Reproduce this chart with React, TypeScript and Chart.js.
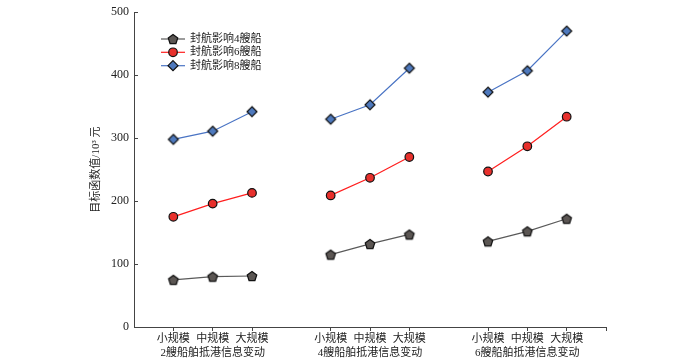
import React, { useEffect, useRef } from 'react';
import { Chart, registerables } from 'chart.js';

Chart.register(...registerables);

const sizeLabels = ['小规模', '中规模', '大规模'];
const groupLabels = ['2艘船舶抵港信息变动', '4艘船舶抵港信息变动', '6艘船舶抵港信息变动'];
const seriesNames = ['封航影响4艘船', '封航影响6艘船', '封航影响8艘船'];
const closure4 = [75, 80, 81, 115, 132, 147, 136, 152, 172];
const closure6 = [175, 196, 213, 209, 237, 270, 247, 287, 334];
const closure8 = [298, 311, 342, 330, 353, 411, 373, 407, 470];
const yTickValues = [0, 100, 200, 300, 400, 500];
const yTitle = '目标函数值/10³ 元';

const FONT = '"Liberation Serif", "Noto Sans CJK SC", serif';
const AXIS_COLOR = '#444';
const TEXT_COLOR = '#222';

const seriesStyles = [
  { marker: 'pentagon', line: '#5a5a5a', fill: '#5b5653', r: 5 },
  { marker: 'circle', line: '#ff1f1f', fill: '#e8302c', r: 4.3 },
  { marker: 'diamond', line: '#4a74c4', fill: '#4e79bd', r: 5 },
];

function markerPath(ctx: CanvasRenderingContext2D, style: string, x: number, y: number, r: number) {
  ctx.beginPath();
  if (style === 'pentagon') {
    for (let i = 0; i < 5; i++) {
      const a = -Math.PI / 2 + (i * 2 * Math.PI) / 5;
      const px = x + Math.cos(a) * r;
      const py = y + Math.sin(a) * r;
      if (i === 0) ctx.moveTo(px, py);
      else ctx.lineTo(px, py);
    }
  } else if (style === 'diamond') {
    ctx.moveTo(x, y - r);
    ctx.lineTo(x + r, y);
    ctx.lineTo(x, y + r);
    ctx.lineTo(x - r, y);
  } else {
    ctx.arc(x, y, r, 0, Math.PI * 2);
  }
  ctx.closePath();
}

function drawMarker(ctx: CanvasRenderingContext2D, style: string, x: number, y: number, r: number, fill: string) {
  ctx.save();
  markerPath(ctx, style, x, y, r);
  ctx.fillStyle = fill;
  ctx.fill();
  ctx.lineWidth = 1.2;
  ctx.strokeStyle = '#111';
  ctx.stroke();
  ctx.restore();
}

function markerImage(style: string, r: number, fill: string) {
  const size = Math.ceil(r * 2 + 4);
  const c = document.createElement('canvas');
  c.width = size;
  c.height = size;
  const ctx = c.getContext('2d')!;
  drawMarker(ctx, style, size / 2, size / 2 + (style === 'pentagon' ? 0.5 : 0), r, fill);
  return c;
}

function groupPos(g: number, i: number) {
  return g * 4 + i + 1;
}

function buildPoints(values: number[]) {
  const pts: { x: number; y: number | null }[] = [];
  for (let g = 0; g < groupLabels.length; g++) {
    for (let i = 0; i < sizeLabels.length; i++) {
      pts.push({ x: groupPos(g, i), y: values[g * sizeLabels.length + i] });
    }
    if (g < groupLabels.length - 1) pts.push({ x: groupPos(g, 3), y: null });
  }
  return pts;
}

const xTickPositions: number[] = [];
for (let g = 0; g < groupLabels.length; g++) {
  for (let i = 0; i < sizeLabels.length; i++) xTickPositions.push(groupPos(g, i));
}
const X_MAX = groupLabels.length * 4;
xTickPositions.push(X_MAX);

const overlayPlugin = {
  id: 'overlay',
  afterDraw(chart: any) {
    const ctx: CanvasRenderingContext2D = chart.ctx;
    const area = chart.chartArea;
    const yScale = chart.scales.y;
    // inward y ticks
    ctx.save();
    ctx.strokeStyle = AXIS_COLOR;
    ctx.lineWidth = 1;
    yTickValues.forEach((v) => {
      const py = Math.round(yScale.getPixelForValue(v)) + 0.5;
      ctx.beginPath();
      ctx.moveTo(area.left, py);
      ctx.lineTo(area.left + 4, py);
      ctx.stroke();
    });
    ctx.restore();

    // y title
    ctx.save();
    ctx.translate(96, (area.top + area.bottom) / 2);
    ctx.rotate(-Math.PI / 2);
    ctx.font = `11px ${FONT}`;
    ctx.fillStyle = TEXT_COLOR;
    ctx.textAlign = 'center';
    ctx.textBaseline = 'middle';
    ctx.fillText(yTitle, 0, 0);
    ctx.restore();

    // legend
    const rows = [39, 52.3, 65.7];
    seriesNames.forEach((name, k) => {
      const st = seriesStyles[k];
      const y = rows[k];
      ctx.save();
      ctx.strokeStyle = st.line;
      ctx.lineWidth = 1.2;
      ctx.beginPath();
      ctx.moveTo(161, y);
      ctx.lineTo(185, y);
      ctx.stroke();
      ctx.restore();
      drawMarker(ctx, st.marker, 173, y + (st.marker === 'pentagon' ? 0.5 : 0), st.r, st.fill);
      ctx.save();
      ctx.font = `11px ${FONT}`;
      ctx.fillStyle = TEXT_COLOR;
      ctx.textAlign = 'left';
      ctx.textBaseline = 'middle';
      ctx.fillText(name, 190, y);
      ctx.restore();
    });
  },
};

export default function App() {
  const canvasRef = useRef<HTMLCanvasElement | null>(null);

  useEffect(() => {
    if (!canvasRef.current) return;
    const allValues = [closure4, closure6, closure8];
    const datasets = allValues.map((vals, k) => {
      const st = seriesStyles[k];
      return {
        label: seriesNames[k],
        data: buildPoints(vals),
        borderColor: st.line,
        backgroundColor: st.fill,
        borderWidth: 1.2,
        pointStyle: st.marker === 'circle' ? 'circle' : markerImage(st.marker, st.r, st.fill),
        pointRadius: st.r,
        pointBorderColor: '#111',
        pointBorderWidth: 1.2,
        pointBackgroundColor: st.fill,
        spanGaps: false,
        tension: 0,
      };
    });

    const chart = new Chart(canvasRef.current, {
      type: 'line',
      data: { datasets: datasets as any },
      plugins: [overlayPlugin],
      options: {
        animation: false,
        responsive: true,
        maintainAspectRatio: false,
        layout: { padding: { left: 0, right: 94, top: 10, bottom: 0 } },
        plugins: { legend: { display: false }, tooltip: { enabled: false } },
        scales: {
          x: {
            type: 'linear',
            min: 0,
            max: X_MAX,
            afterBuildTicks: (scale: any) => {
              scale.ticks = xTickPositions.map((v) => ({ value: v }));
            },
            afterFit: (scale: any) => {
              scale.height = 31;
            },
            grid: { drawOnChartArea: false, drawTicks: true, tickLength: 4, color: AXIS_COLOR },
            border: { display: true, color: AXIS_COLOR, width: 1 },
            ticks: {
              autoSkip: false,
              maxRotation: 0,
              minRotation: 0,
              padding: 1,
              color: TEXT_COLOR,
              font: { size: 11, family: FONT, lineHeight: 1.27 },
              callback: (value: any) => {
                const idx = xTickPositions.indexOf(Number(value));
                if (idx < 0 || idx >= sizeLabels.length * groupLabels.length) return '';
                const g = Math.floor(idx / sizeLabels.length);
                const i = idx % sizeLabels.length;
                if (i === 1) return [sizeLabels[i], groupLabels[g]];
                return sizeLabels[i];
              },
            },
          },
          y: {
            type: 'linear',
            min: 0,
            max: 500,
            afterBuildTicks: (scale: any) => {
              scale.ticks = yTickValues.map((v) => ({ value: v }));
            },
            afterFit: (scale: any) => {
              scale.width = 134;
            },
            grid: { display: false, drawTicks: false },
            border: { display: true, color: AXIS_COLOR, width: 1 },
            ticks: {
              padding: 5,
              color: TEXT_COLOR,
              font: { size: 12, family: FONT },
            },
          },
        },
      },
    });
    return () => chart.destroy();
  }, []);

  return (
    <div style={{ position: 'absolute', left: 0, top: 0, width: 700, height: 358 }}>
      <canvas ref={canvasRef} />
    </div>
  );
}
